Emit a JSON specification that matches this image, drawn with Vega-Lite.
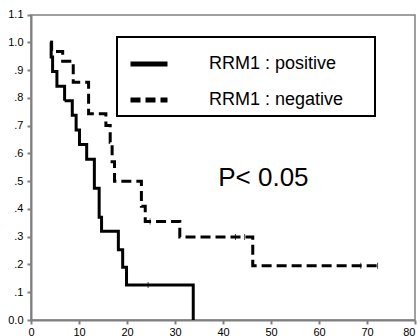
{
  "$schema": "https://vega.github.io/schema/vega-lite/v6.json",
  "width": 384,
  "height": 305,
  "autosize": {"type": "none"},
  "padding": {"left": 31, "top": 15, "right": 5, "bottom": 16},
  "background": "white",
  "config": {
    "view": {"stroke": "#808080", "strokeWidth": 1.5},
    "font": "Liberation Sans",
    "axis": {
      "grid": false,
      "domainColor": "#808080",
      "domainWidth": 2,
      "tickColor": "#808080",
      "tickWidth": 2,
      "tickSize": 4,
      "labelFont": "Liberation Sans",
      "labelFontSize": 11,
      "labelColor": "#000000",
      "labelOverlap": false,
      "labelBound": false,
      "labelFlush": false,
      "title": null
    }
  },
  "datasets": {
    "curves": [
      {"group": "RRM1 : positive", "time": 4.0, "survival": 1.0},
      {"group": "RRM1 : positive", "time": 4.2, "survival": 0.947},
      {"group": "RRM1 : positive", "time": 4.5, "survival": 0.895},
      {"group": "RRM1 : positive", "time": 5.4, "survival": 0.842},
      {"group": "RRM1 : positive", "time": 7.0, "survival": 0.789},
      {"group": "RRM1 : positive", "time": 8.6, "survival": 0.737},
      {"group": "RRM1 : positive", "time": 9.4, "survival": 0.684},
      {"group": "RRM1 : positive", "time": 10.1, "survival": 0.632},
      {"group": "RRM1 : positive", "time": 11.6, "survival": 0.579},
      {"group": "RRM1 : positive", "time": 13.2, "survival": 0.474},
      {"group": "RRM1 : positive", "time": 14.2, "survival": 0.37},
      {"group": "RRM1 : positive", "time": 14.7, "survival": 0.32},
      {"group": "RRM1 : positive", "time": 18.2, "survival": 0.253},
      {"group": "RRM1 : positive", "time": 19.1, "survival": 0.19},
      {"group": "RRM1 : positive", "time": 19.9, "survival": 0.126},
      {"group": "RRM1 : positive", "time": 33.8, "survival": 0.0},
      {"group": "RRM1 : negative", "time": 4.0, "survival": 1.0},
      {"group": "RRM1 : negative", "time": 4.3, "survival": 0.967},
      {"group": "RRM1 : negative", "time": 6.6, "survival": 0.932},
      {"group": "RRM1 : negative", "time": 8.8, "survival": 0.856},
      {"group": "RRM1 : negative", "time": 12.0, "survival": 0.743},
      {"group": "RRM1 : negative", "time": 15.6, "survival": 0.70},
      {"group": "RRM1 : negative", "time": 16.5, "survival": 0.64},
      {"group": "RRM1 : negative", "time": 16.9, "survival": 0.57},
      {"group": "RRM1 : negative", "time": 17.4, "survival": 0.5},
      {"group": "RRM1 : negative", "time": 23.0, "survival": 0.41},
      {"group": "RRM1 : negative", "time": 23.8, "survival": 0.355},
      {"group": "RRM1 : negative", "time": 31.0, "survival": 0.299},
      {"group": "RRM1 : negative", "time": 46.2, "survival": 0.195},
      {"group": "RRM1 : negative", "time": 72.2, "survival": 0.195}
    ],
    "censor": [
      {"group": "RRM1 : positive", "time": 24.4, "survival": 0.126},
      {"group": "RRM1 : negative", "time": 24.8, "survival": 0.355},
      {"group": "RRM1 : negative", "time": 42.6, "survival": 0.299},
      {"group": "RRM1 : negative", "time": 44.5, "survival": 0.299},
      {"group": "RRM1 : negative", "time": 68.7, "survival": 0.195},
      {"group": "RRM1 : negative", "time": 72.2, "survival": 0.195}
    ],
    "note": [
      {"label": "P< 0.05"}
    ]
  },
  "layer": [
    {
      "data": {"name": "curves"},
      "mark": {"type": "line", "interpolate": "step-after", "color": "black", "strokeWidth": 3},
      "encoding": {
        "x": {
          "field": "time", "type": "quantitative",
          "scale": {"domain": [0, 80], "nice": false},
          "axis": {"values": [0, 10, 20, 30, 40, 50, 60, 70, 80], "tickCount": 9, "labelPadding": 2, "labelOverlap": false, "labelAlign": {"condition": {"test": "datum.value == 80", "value": "right"}, "value": "center"}}
        },
        "y": {
          "field": "survival", "type": "quantitative",
          "scale": {"domain": [0, 1.1], "nice": false, "range": [305, -0.5]},
          "axis": {
            "values": [0, 0.1, 0.2, 0.3, 0.4, 0.5, 0.6, 0.7, 0.8, 0.9, 1.0, 1.1],
            "tickCount": 12,
            "labelExpr": "datum.value > 0 && datum.value < 1 ? replace(format(datum.value, '.1f'), '0.', '.') : format(datum.value, '.1f')",
            "labelPadding": 4,
            "labelOverlap": false
          }
        },
        "strokeDash": {
          "field": "group", "type": "nominal",
          "scale": {"domain": ["RRM1 : positive", "RRM1 : negative"], "range": [[1, 0], [10, 5]]},
          "legend": {
            "title": null,
            "orient": "none",
            "legendX": 86,
            "legendY": 22,
            "strokeColor": "black",
            "padding": 6,
            "symbolType": "stroke",
            "symbolSize": 1369,
            "symbolStrokeWidth": 5,
            "symbolStrokeColor": "black",
            "symbolOffset": 5,
            "labelOffset": 39,
            "labelFontSize": 18,
            "labelFont": "Liberation Sans",
            "labelColor": "black",
            "labelLimit": 300,
            "rowPadding": 5,
            "labelExpr": "datum.label + '\u00a0\u00a0\u00a0\u00a0\u00a0\u200b'",
            "encode": {
              "symbols": {"update": {"strokeDash": {"signal": "datum.value == 'RRM1 : negative' ? [18, 15] : [1, 0]"}}},
              "legend": {"update": {"strokeWidth": {"value": 2}}}
            }
          }
        }
      }
    },
    {
      "data": {"name": "censor"},
      "mark": {"type": "tick", "orient": "vertical", "color": "black", "size": 6, "thickness": 1},
      "encoding": {
        "x": {
          "field": "time", "type": "quantitative",
          "axis": {"values": [0, 10, 20, 30, 40, 50, 60, 70, 80], "tickCount": 9, "labelPadding": 2, "labelOverlap": false, "labelAlign": {"condition": {"test": "datum.value == 80", "value": "right"}, "value": "center"}}
        },
        "y": {
          "field": "survival", "type": "quantitative",
          "axis": {
            "values": [0, 0.1, 0.2, 0.3, 0.4, 0.5, 0.6, 0.7, 0.8, 0.9, 1.0, 1.1],
            "tickCount": 12,
            "labelExpr": "datum.value > 0 && datum.value < 1 ? replace(format(datum.value, '.1f'), '0.', '.') : format(datum.value, '.1f')",
            "labelPadding": 4,
            "labelOverlap": false
          }
        }
      }
    },
    {
      "data": {"name": "note"},
      "mark": {"type": "text", "align": "left", "baseline": "alphabetic", "fontSize": 26, "font": "Liberation Sans", "color": "black"},
      "encoding": {
        "x": {
          "datum": 39,
          "axis": {"values": [0, 10, 20, 30, 40, 50, 60, 70, 80], "tickCount": 9, "labelPadding": 2, "labelOverlap": false, "labelAlign": {"condition": {"test": "datum.value == 80", "value": "right"}, "value": "center"}}
        },
        "y": {
          "datum": 0.484,
          "axis": {
            "values": [0, 0.1, 0.2, 0.3, 0.4, 0.5, 0.6, 0.7, 0.8, 0.9, 1.0, 1.1],
            "tickCount": 12,
            "labelExpr": "datum.value > 0 && datum.value < 1 ? replace(format(datum.value, '.1f'), '0.', '.') : format(datum.value, '.1f')",
            "labelPadding": 4,
            "labelOverlap": false
          }
        },
        "text": {"field": "label"}
      }
    }
  ]
}
